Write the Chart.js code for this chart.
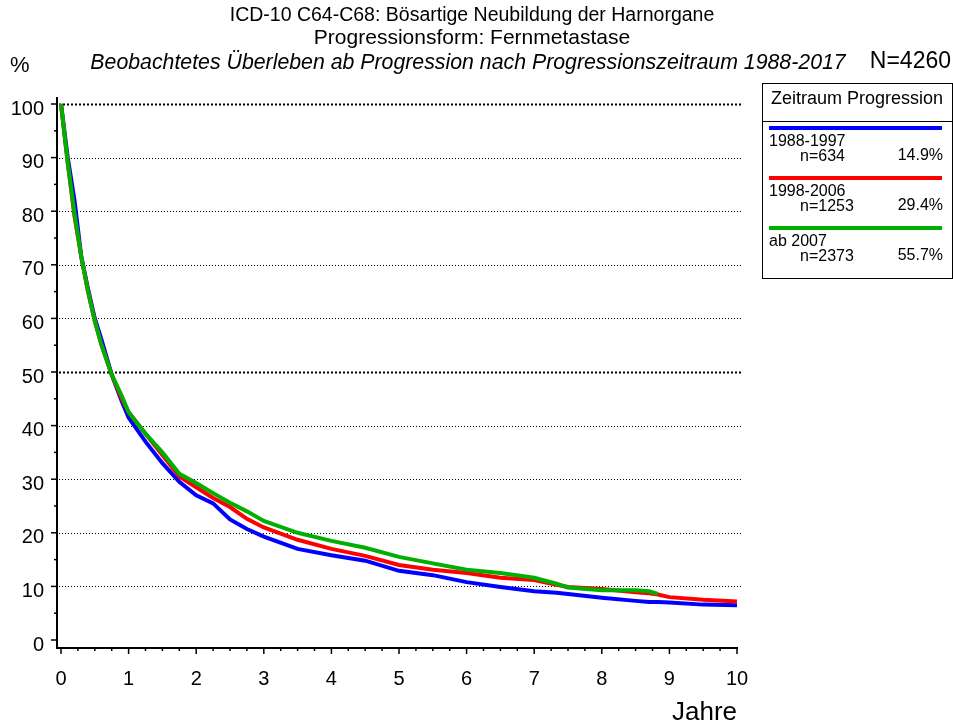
<!DOCTYPE html>
<html>
<head>
<meta charset="utf-8">
<script src="https://cdn.jsdelivr.net/npm/chart.js@4"></script>
<style>
html,body{margin:0;padding:0;background:#fff;}
#wrap{position:relative;width:953px;height:728px;}
</style>
</head>
<body>
<div id="wrap"><canvas id="c" width="953" height="728"></canvas></div>
<script>
// ---- data ----
const years      = [0, 0.1, 0.2, 0.3, 0.4, 0.5, 0.6, 0.75, 0.9, 1.0, 1.25, 1.5, 1.75, 2.0, 2.25, 2.5, 2.75, 3.0, 3.5, 4.0, 4.5, 5.0, 5.5, 6.0, 6.5, 7.0, 7.33, 7.5, 8.0, 8.5, 8.7, 8.83, 9.0, 9.5, 10];
const blue1988   = [100, 90, 82, 71.5, 65.5, 60, 56, 49.5, 44.5, 41.5, 37, 33, 29.5, 27, 25.5, 22.5, 20.7, 19.3, 17, 15.8, 14.8, 12.9, 12.1, 10.8, 9.9, 9.1, 8.8, 8.6, 7.9, 7.3, 7.1, 7.1, 7.0, 6.6, 6.5];
const red1998    = [100, 89, 79, 71.5, 65, 59.5, 55, 49.5, 45, 42.5, 38.5, 34.5, 30.5, 28.5, 26.5, 24.8, 22.6, 21, 18.7, 17, 15.7, 14.0, 13.1, 12.5, 11.6, 11.2, 10.3, 9.9, 9.5, 8.9, 8.7, 8.5, 8.0, 7.5, 7.2];
const green2007  = [100, 89, 79.5, 71.5, 65, 59.5, 55, 49.5, 45.5, 42.5, 38.5, 35, 31, 29.3, 27.4, 25.6, 24.0, 22.2, 20, 18.5, 17.2, 15.5, 14.3, 13.1, 12.5, 11.6, 10.5, 9.8, 9.3, 9.3, 9.1, 8.6, null, null, null];
const xTickLabels = ['0','1','2','3','4','5','6','7','8','9','10'];
const yTickLabels = ['0','10','20','30','40','50','60','70','80','90','100'];
const legendPeriods = ['1988-1997', '1998-2006', 'ab 2007'];
const legendCounts  = ['n=634', 'n=1253', 'n=2373'];
const legendShares  = ['14.9%', '29.4%', '55.7%'];
const titleLines = ['ICD-10 C64-C68: Bösartige Neubildung der Harnorgane', 'Progressionsform: Fernmetastase', 'Beobachtetes Überleben ab Progression nach Progressionszeitraum 1988-2017'];
const totalN = 'N=4260';
const yUnit = '%';
const xUnit = 'Jahre';
const legendTitle = 'Zeitraum Progression';

const BLUE = '#0000ff', RED = '#ff0000', GREEN = '#00b000';
const FONT = '"Liberation Sans", Arial, sans-serif';

function pts(arr){ return years.map((t,i)=>({x:t, y:arr[i]})).filter(p=>p.y!==null); }

const decor = {
  id: 'decor',
  beforeDatasetsDraw(chart){
    const {ctx, chartArea:a, scales:{y}} = chart;
    ctx.save();
    ctx.strokeStyle = '#000';
    for (let v = 10; v <= 100; v += 10){
      const py = Math.round(y.getPixelForValue(v)) + 0.5;
      const bold = (v === 50 || v === 100);
      ctx.lineWidth = bold ? 2 : 1;
      ctx.setLineDash(bold ? [2,2] : [1,2]);
      ctx.beginPath(); ctx.moveTo(a.left - 2, py); ctx.lineTo(a.right + 4, py); ctx.stroke();
    }
    ctx.restore();
  },
  afterDraw(chart){
    const {ctx, chartArea:a, scales:{x,y}} = chart;
    ctx.save();
    const axX = a.left - 4, axY = a.bottom + 8;
    ctx.strokeStyle = '#000'; ctx.lineWidth = 2; ctx.setLineDash([]);
    ctx.beginPath(); ctx.moveTo(axX, a.top - 7); ctx.lineTo(axX, axY); ctx.lineTo(x.getPixelForValue(10) + 1, axY); ctx.stroke();
    ctx.lineWidth = 1.5;
    for (let v = 0; v <= 100; v += 5){
      const py = y.getPixelForValue(v);
      const len = (v % 10 === 0) ? 6 : 3;
      ctx.beginPath(); ctx.moveTo(axX, py); ctx.lineTo(axX - len, py); ctx.stroke();
    }
    for (let t = 0; t <= 10.001; t += 0.25){
      const px = x.getPixelForValue(t);
      const len = (Math.abs(t - Math.round(t)) < 1e-6) ? 6 : 3;
      ctx.beginPath(); ctx.moveTo(px, axY); ctx.lineTo(px, axY + len); ctx.stroke();
    }
    // titles
    ctx.fillStyle = '#000'; ctx.textBaseline = 'middle'; ctx.textAlign = 'center';
    ctx.font = '19.5px ' + FONT; ctx.fillText(titleLines[0], 472, 16);
    ctx.font = '21px ' + FONT; ctx.fillText(titleLines[1], 472, 38);
    ctx.font = 'italic 21.3px ' + FONT; ctx.fillText(titleLines[2], 468, 63);
    ctx.textAlign = 'left'; ctx.font = '22px ' + FONT; ctx.fillText(yUnit, 10, 66);
    ctx.textAlign = 'right'; ctx.font = '23px ' + FONT; ctx.fillText(totalN, 951, 62);
    ctx.font = '26px ' + FONT; ctx.fillText(xUnit, x.getPixelForValue(10), 713);
    // legend box
    ctx.lineWidth = 1; ctx.strokeStyle = '#000';
    ctx.strokeRect(762.5, 83.5, 190, 195);
    ctx.beginPath(); ctx.moveTo(762, 121.5); ctx.lineTo(953, 121.5); ctx.stroke();
    ctx.textAlign = 'center'; ctx.font = '18px ' + FONT;
    ctx.fillText(legendTitle, 857, 99);
    const cols = [BLUE, RED, GREEN];
    for (let i = 0; i < 3; i++){
      const base = 128 + i * 50;
      ctx.strokeStyle = cols[i]; ctx.lineWidth = 4;
      ctx.beginPath(); ctx.moveTo(769, base); ctx.lineTo(942, base); ctx.stroke();
      ctx.font = '16px ' + FONT; ctx.textAlign = 'left';
      ctx.fillText(legendPeriods[i], 769, base + 14);
      ctx.fillText(legendCounts[i], 800, base + 29);
      ctx.textAlign = 'right';
      ctx.fillText(legendShares[i], 943, base + 28);
    }
    ctx.restore();
  }
};

new Chart(document.getElementById('c'), {
  type: 'line',
  data: {
    datasets: [
      {label: legendPeriods[2], data: pts(green2007), borderColor: GREEN, borderWidth: 4, pointRadius: 0, tension: 0, clip: false},
      {label: legendPeriods[1], data: pts(red1998), borderColor: RED, borderWidth: 4, pointRadius: 0, tension: 0, clip: false},
      {label: legendPeriods[0], data: pts(blue1988), borderColor: BLUE, borderWidth: 4, pointRadius: 0, tension: 0, clip: false}
    ]
  },
  options: {
    responsive: false,
    animation: false,
    layout: {padding: {left: 0, top: 104, right: 216, bottom: 0}},
    plugins: {legend: {display: false}, tooltip: {enabled: false}, title: {display: false}},
    scales: {
      x: {
        type: 'linear', min: 0, max: 10,
        afterBuildTicks(s){ s.ticks = xTickLabels.map(v => ({value: Number(v)})); },
        afterFit(s){ s.height = 88; },
        grid: {display: false, drawTicks: false},
        border: {display: false},
        ticks: {color: '#000', font: {family: FONT, size: 20}, padding: 27, maxRotation: 0, autoSkip: false,
                callback: (v, i) => xTickLabels[i]}
      },
      y: {
        type: 'linear', min: 0, max: 100,
        afterBuildTicks(s){ s.ticks = yTickLabels.map(v => ({value: Number(v)})); },
        afterFit(s){ s.width = 61; },
        grid: {display: false, drawTicks: false},
        border: {display: false},
        ticks: {color: '#000', font: {family: FONT, size: 20}, padding: 17, labelOffset: 5, autoSkip: false,
                callback: (v, i) => yTickLabels[i]}
      }
    }
  },
  plugins: [decor]
});
</script>
</body>
</html>
